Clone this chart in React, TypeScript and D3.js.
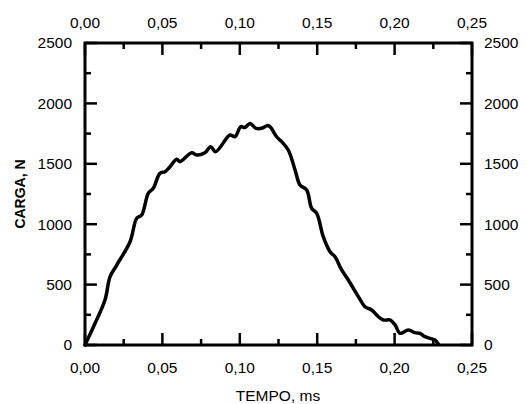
import React from "react";
import * as d3 from "d3";

const tempo = [0, 0.0065, 0.0129, 0.0162, 0.0205, 0.0291, 0.0334, 0.0366, 0.0409, 0.0441, 0.0484, 0.0517, 0.0549, 0.0592, 0.0614, 0.0689, 0.0721, 0.0775, 0.0812, 0.0844, 0.0937, 0.0969, 0.1006, 0.1033, 0.1066, 0.1105, 0.1141, 0.1177, 0.1195, 0.1238, 0.127, 0.1313, 0.1357, 0.1389, 0.1432, 0.1464, 0.1497, 0.1539, 0.1583, 0.1615, 0.1658, 0.1701, 0.1766, 0.1809, 0.1852, 0.1895, 0.1927, 0.197, 0.2003, 0.2035, 0.2089, 0.2132, 0.2164, 0.2196, 0.2229, 0.2261, 0.2282];
const carga = [0, 180, 372, 565, 662, 855, 1049, 1076, 1256, 1297, 1421, 1435, 1476, 1537, 1518, 1592, 1573, 1592, 1642, 1600, 1738, 1724, 1807, 1801, 1834, 1794, 1794, 1816, 1807, 1724, 1683, 1614, 1449, 1325, 1283, 1132, 1090, 897, 772, 731, 621, 538, 400, 317, 290, 234, 207, 207, 166, 97, 124, 102, 97, 69, 55, 41, 8];
const xTicks = [0, 0.05, 0.1, 0.15, 0.2, 0.25];
const xMinor = [0.025, 0.075, 0.125, 0.175, 0.225];
const yTicks = [0, 500, 1000, 1500, 2000, 2500];
const yMinor = [250, 750, 1250, 1750, 2250];

const W = 530, H = 404;
const L = 85, R = 472, T = 43, B = 345;

export default function App() {
  const x = d3.scaleLinear().domain([0, 0.25]).range([L, R]);
  const y = d3.scaleLinear().domain([0, 2500]).range([B, T]);
  const fmt = (v: number) => v.toFixed(2).replace(".", ",");
  const data = tempo.map((t, i) => [t, carga[i]] as [number, number]);
  const line = d3.line<[number, number]>().x(d => x(d[0])).y(d => y(d[1])).curve(d3.curveCatmullRom.alpha(0.5));
  const font = "'Liberation Sans', Arial, sans-serif";
  const fs = 15.5;
  const major = 12, minor = 6;
  return (
    <svg width={W} height={H} style={{ position: "absolute", left: 0, top: 0, background: "#fff" }}>
      <rect x={0} y={0} width={W} height={H} fill="#fff" />
      <g stroke="#000" strokeWidth={2.5}>
        {xTicks.map(t => (
          <g key={"x" + t}>
            <line x1={x(t)} x2={x(t)} y1={B} y2={B - major} />
            <line x1={x(t)} x2={x(t)} y1={T} y2={T + major} />
          </g>
        ))}
        {xMinor.map(t => (
          <g key={"xm" + t}>
            <line x1={x(t)} x2={x(t)} y1={B} y2={B - minor} />
            <line x1={x(t)} x2={x(t)} y1={T} y2={T + minor} />
          </g>
        ))}
        {yTicks.map(t => (
          <g key={"y" + t}>
            <line x1={L} x2={L + major} y1={y(t)} y2={y(t)} />
            <line x1={R} x2={R - major} y1={y(t)} y2={y(t)} />
          </g>
        ))}
        {yMinor.map(t => (
          <g key={"ym" + t}>
            <line x1={L} x2={L + minor} y1={y(t)} y2={y(t)} />
            <line x1={R} x2={R - minor} y1={y(t)} y2={y(t)} />
          </g>
        ))}
        <rect x={L} y={T} width={R - L} height={B - T} fill="none" strokeWidth={3} />
      </g>
      <path d={line(data) || ""} fill="none" stroke="#000" strokeWidth={3.5} strokeLinejoin="round" strokeLinecap="round" />
      <g fontFamily={font} fontSize={fs} fill="#000">
        {xTicks.map(t => (
          <text key={"bl" + t} x={x(t)} y={373} textAnchor="middle">{fmt(t)}</text>
        ))}
        {xTicks.map(t => (
          <text key={"tl" + t} x={x(t)} y={28} textAnchor="middle">{fmt(t)}</text>
        ))}
        {yTicks.map(t => (
          <text key={"ll" + t} x={72} y={y(t)} dy="0.35em" textAnchor="end">{t}</text>
        ))}
        {yTicks.map(t => (
          <text key={"rl" + t} x={484} y={y(t)} dy="0.35em" textAnchor="start">{t}</text>
        ))}
        <text x={278} y={401} textAnchor="middle">TEMPO, ms</text>
        <text transform={`translate(25,${(T + B) / 2}) rotate(-90)`} textAnchor="middle" fontWeight="bold" fontSize={14}>CARGA, N</text>
      </g>
    </svg>
  );
}
